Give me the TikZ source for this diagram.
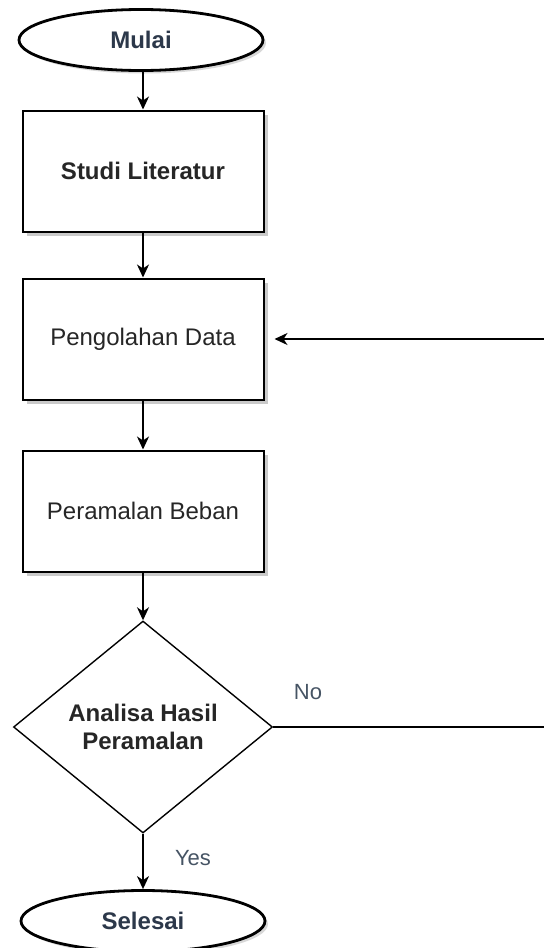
\documentclass[tikz,border=0pt]{standalone}
\usepackage{fontspec}
\setmainfont{Liberation Sans}
\usetikzlibrary{shapes.geometric,arrows.meta,shadows}
\definecolor{termtext}{RGB}{44,56,74}
\definecolor{bodytext}{RGB}{38,38,38}
\definecolor{labeltext}{RGB}{70,84,100}

\begin{document}
\begin{tikzpicture}[x=0.5pt, y=-0.5pt,
  every node/.style={font=\fontsize{12}{14}\selectfont},
  terminal/.style={ellipse, draw, line width=1.4pt, fill=white, inner sep=0pt,
    minimum width=122pt, minimum height=30.5pt, text=termtext,
    font=\fontsize{12}{14}\selectfont\bfseries,
    drop shadow={shadow xshift=1.5pt, shadow yshift=-1.5pt, fill=black!30, opacity=0.5}},
  process/.style={rectangle, draw, line width=1pt, fill=white,
    minimum width=120.5pt, minimum height=60.5pt, text=bodytext,
    drop shadow={shadow xshift=2pt, shadow yshift=-2pt, fill=black!35, opacity=0.6}},
  decision/.style={diamond, draw, line width=0.7pt, fill=white, inner sep=0pt,
    aspect=1.22, minimum width=129.5pt, minimum height=106pt, align=center,
    text=bodytext, font=\fontsize{12}{14}\selectfont\bfseries},
  flow/.style={draw, line width=0.8pt, -{Stealth[length=6.5pt, width=6pt, inset=2pt]}},
  answer/.style={text=labeltext, font=\fontsize{11}{13}\selectfont}]
  \useasboundingbox (0,0) rectangle (544,948);

  % Start and end terminals
  \node[terminal] (mulai) at (141, 40) {Mulai};
  \node[terminal] (selesai) at (143, 921) {Selesai};

  % Process steps
  \node[process, font=\fontsize{12}{14}\selectfont\bfseries] (studi) at (143, 171) {Studi Literatur};
  \node[process] (olah) at (143, 339) {Pengolahan Data};
  \node[process] (ramal) at (143, 511) {Peramalan Beban};

  % Decision
  \node[decision] (analisa) at (143, 727) {Analisa Hasil\\Peramalan};

  % Main flow, top to bottom
  \foreach \a/\b in {studi/olah, olah/ramal, ramal/analisa, analisa/selesai} {
    \draw[flow] (\a) -- (\b);
  }
  \draw[flow] (mulai.south -| studi.north) -- (studi.north);

  % Loop back when the result is rejected (runs past the right edge)
  \coordinate (edge) at (552, 727);
  \draw[flow, shorten >=5pt] (analisa.east) -- (edge) |- (olah.east);

  % Branch labels
  \node[answer] (no) at (308, 692) {No};
  \node[answer] (yes) at (193, 858) {Yes};
\end{tikzpicture}
\end{document}
